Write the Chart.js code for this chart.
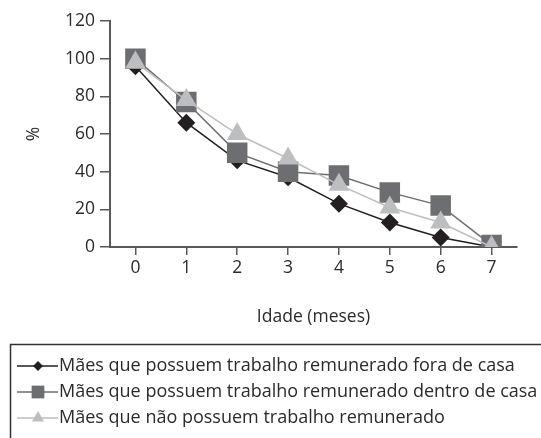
<!DOCTYPE html>
<html>
<head>
<meta charset="utf-8">
<script src="https://cdn.jsdelivr.net/npm/chart.js@4/dist/chart.umd.min.js"></script>
<style>
html,body{margin:0;padding:0;background:#fff;}
#wrap{width:541px;height:438px;}
</style>
</head>
<body>
<div id="wrap"><canvas id="c" width="541" height="438"></canvas></div>
<script>
const categories = ['0','1','2','3','4','5','6','7'];
const foraDeCasa = [96, 66, 46, 37, 23, 13, 5, 0];
const dentroDeCasa = [100, 77, 50, 40, 38, 29, 22, 1];
const semTrabalho = [98, 78, 60, 47, 33, 21, 13, 0];
const seriesNames = [
  'Mães que possuem trabalho remunerado fora de casa',
  'Mães que possuem trabalho remunerado dentro de casa',
  'Mães que não possuem trabalho remunerado'
];
const yTicks = [0, 20, 40, 60, 80, 100, 120];
const xTitle = 'Idade (meses)';
const yTitle = '%';

const FONT = '"Open Sans", sans-serif';
const FS = 17.5;
const LFS = 18;
const axisColor = '#58595b';
const textColor = '#2b2b2b';

const styles = [
  {color:'#231f20', point:'rectRot', r:9, lr:5},
  {color:'#6d6e71', point:'rect', r:14.5, lr:9},
  {color:'#bcbec0', point:'triangle', r:12, lr:7}
];

const legendPlugin = {
  id: 'lineLegend',
  afterDraw(chart) {
    const ctx = chart.ctx;
    ctx.save();
    ctx.strokeStyle = '#333';
    ctx.lineWidth = 1.5;
    ctx.strokeRect(10.5, 344.5, 560, 120);
    const rowsY = [366, 392, 418];
    chart.data.datasets.forEach((ds, i) => {
      const y = rowsY[i];
      ctx.strokeStyle = ds.borderColor;
      ctx.lineWidth = 1.5;
      ctx.beginPath();
      ctx.moveTo(17, y);
      ctx.lineTo(58, y);
      ctx.stroke();
      ctx.fillStyle = ds.borderColor;
      Chart.helpers.drawPoint(ctx, {pointStyle: ds.pointStyle, radius: styles[i].lr, borderWidth: 0, rotation: 0}, 38, y);
      ctx.fillStyle = textColor;
      ctx.font = LFS + 'px ' + FONT;
      ctx.textBaseline = 'middle';
      ctx.textAlign = 'left';
      ctx.fillText(ds.label, 59, y);
    });
    ctx.restore();
  }
};

const datasets = [foraDeCasa, dentroDeCasa, semTrabalho].map((vals, i) => ({
  label: seriesNames[i],
  data: vals,
  borderColor: styles[i].color,
  backgroundColor: styles[i].color,
  pointBackgroundColor: styles[i].color,
  pointBorderColor: styles[i].color,
  pointBorderWidth: 0,
  borderWidth: 1.5,
  pointStyle: styles[i].point,
  pointRadius: styles[i].r,
  tension: 0,
  order: 2 - i
}));

new Chart(document.getElementById('c'), {
  type: 'line',
  data: {labels: categories, datasets},
  plugins: [legendPlugin],
  options: {
    responsive: false,
    devicePixelRatio: 1,
    animation: false,
    layout: {padding: {top: 21, right: 24, bottom: 108, left: 0}},
    plugins: {legend: {display: false}, tooltip: {enabled: false}},
    scales: {
      x: {
        type: 'category',
        offset: true,
        afterFit(s) { s.height = 83; },
        grid: {drawOnChartArea: false, drawTicks: true, tickLength: 8, color: axisColor, lineWidth: 1.5},
        border: {color: axisColor, width: 2},
        ticks: {color: textColor, font: {family: FONT, size: FS}, padding: 3, maxRotation: 0},
        title: {display: true, text: xTitle, color: textColor, font: {family: FONT, size: FS}, padding: {top: 0, bottom: 2}}
      },
      y: {
        min: 0, max: 120,
        afterFit(s) { s.width = 110; },
        afterBuildTicks(s) { s.ticks = yTicks.map(v => ({value: v})); },
        grid: {drawOnChartArea: false, drawTicks: true, tickLength: 10, color: axisColor, lineWidth: 1.5},
        border: {color: axisColor, width: 2},
        ticks: {color: textColor, font: {family: FONT, size: FS}, padding: 5},
        title: {display: true, text: yTitle, color: textColor, font: {family: FONT, size: FS}, padding: {top: 24, bottom: 0}}
      }
    }
  }
});
</script>
</body>
</html>
